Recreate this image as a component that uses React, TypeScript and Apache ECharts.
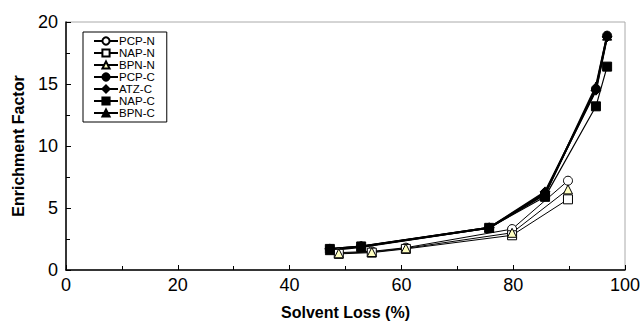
import React, { useEffect, useRef } from "react";
import * as echarts from "echarts";

const nLoss = [48.8, 54.7, 60.8, 79.8, 89.8];
const cLoss = [47.2, 52.8, 75.7, 85.7, 94.8, 96.8];
const pcpN = [1.4, 1.5, 1.8, 3.3, 7.2];
const napN = [1.3, 1.4, 1.7, 2.8, 5.7];
const bpnN = [1.35, 1.45, 1.75, 3.0, 6.5];
const pcpC = [1.7, 1.9, 3.4, 6.2, 14.6, 18.9];
const atzC = [1.7, 1.9, 3.4, 6.3, 14.5, 18.8];
const napC = [1.7, 1.9, 3.4, 5.9, 13.2, 16.4];
const bpnC = [1.6, 1.85, 3.4, 6.1, 14.8, 18.9];

const xTicks = [0, 20, 40, 60, 80, 100];
const yTicks = [0, 5, 10, 15, 20];

const zip = (xs: number[], ys: number[]) => xs.map((x, i) => [x, ys[i]]);

export default function App() {
  const ref = useRef<HTMLDivElement>(null);
  useEffect(() => {
    const chart = echarts.init(ref.current!, null, { renderer: "svg" });
    const font = "Liberation Sans, Arial, sans-serif";
    const mk = (name: string, xs: number[], ys: number[], symbol: string, fill: string, lw: number, size = 9) => ({
      name,
      type: "line",
      data: zip(xs, ys),
      symbol,
      symbolSize: size,
      showAllSymbol: true,
      lineStyle: { color: "#000", width: lw },
      itemStyle: { color: fill, borderColor: "#000", borderWidth: 1 },
      z: 3,
    });
    chart.setOption({
      animation: false,
      grid: { left: 66, right: 19, top: 22, bottom: 56, show: true, borderColor: "#aaa", borderWidth: 1 },
      legend: {
        orient: "vertical",
        left: 83,
        top: 32,
        padding: [3, 12, 3, 10],
        itemGap: 0,
        itemWidth: 24,
        itemHeight: 9,
        borderColor: "#000",
        borderWidth: 1,
        textStyle: { fontFamily: font, fontSize: 11.5, lineHeight: 11.5, color: "#000", padding: [0, 0, 0, -4] },
        data: ["PCP-N", "NAP-N", "BPN-N", "PCP-C", "ATZ-C", "NAP-C", "BPN-C"],
      },
      xAxis: {
        type: "value",
        min: 0,
        max: 100,
        interval: 20,
        name: "Solvent Loss (%)",
        nameLocation: "middle",
        nameGap: 34,
        nameTextStyle: { fontFamily: font, fontSize: 16, fontWeight: "bold", color: "#000" },
        axisLine: { show: true, lineStyle: { color: "#000", width: 1.5 } },
        axisTick: { show: true, inside: true, length: 5, lineStyle: { color: "#000" } },
        minorTick: { show: true, splitNumber: 2, length: 4, lineStyle: { color: "#000" } },
        axisLabel: { fontFamily: font, fontSize: 18, color: "#000", margin: 6, formatter: (v: number) => (xTicks.includes(v) ? String(v) : "") },
        splitLine: { show: false },
      },
      yAxis: {
        type: "value",
        min: 0,
        max: 20,
        interval: 5,
        name: "Enrichment Factor",
        nameLocation: "middle",
        nameGap: 40,
        nameTextStyle: { fontFamily: font, fontSize: 16, fontWeight: "bold", color: "#000" },
        axisLine: { show: true, lineStyle: { color: "#000", width: 1.5 } },
        axisTick: { show: true, inside: true, length: 5, lineStyle: { color: "#000" } },
        minorTick: { show: true, splitNumber: 2, length: 4, lineStyle: { color: "#000" } },
        axisLabel: { fontFamily: font, fontSize: 18, color: "#000", margin: 8, formatter: (v: number) => (yTicks.includes(v) ? String(v) : "") },
        splitLine: { show: false },
      },
      series: [
        mk("PCP-N", nLoss, pcpN, "circle", "#fff", 1),
        mk("NAP-N", nLoss, napN, "rect", "#fff", 1),
        mk("BPN-N", nLoss, bpnN, "triangle", "#ffffc0", 1),
        mk("PCP-C", cLoss, pcpC, "circle", "#000", 2),
        mk("ATZ-C", cLoss, atzC, "diamond", "#000", 2, 10),
        mk("NAP-C", cLoss, napC, "rect", "#000", 1.2),
        mk("BPN-C", cLoss, bpnC, "triangle", "#000", 2),
      ],
    });
    return () => chart.dispose();
  }, []);
  return <div ref={ref} style={{ width: 644, height: 326, position: "absolute", left: 0, top: 0 }} />;
}
